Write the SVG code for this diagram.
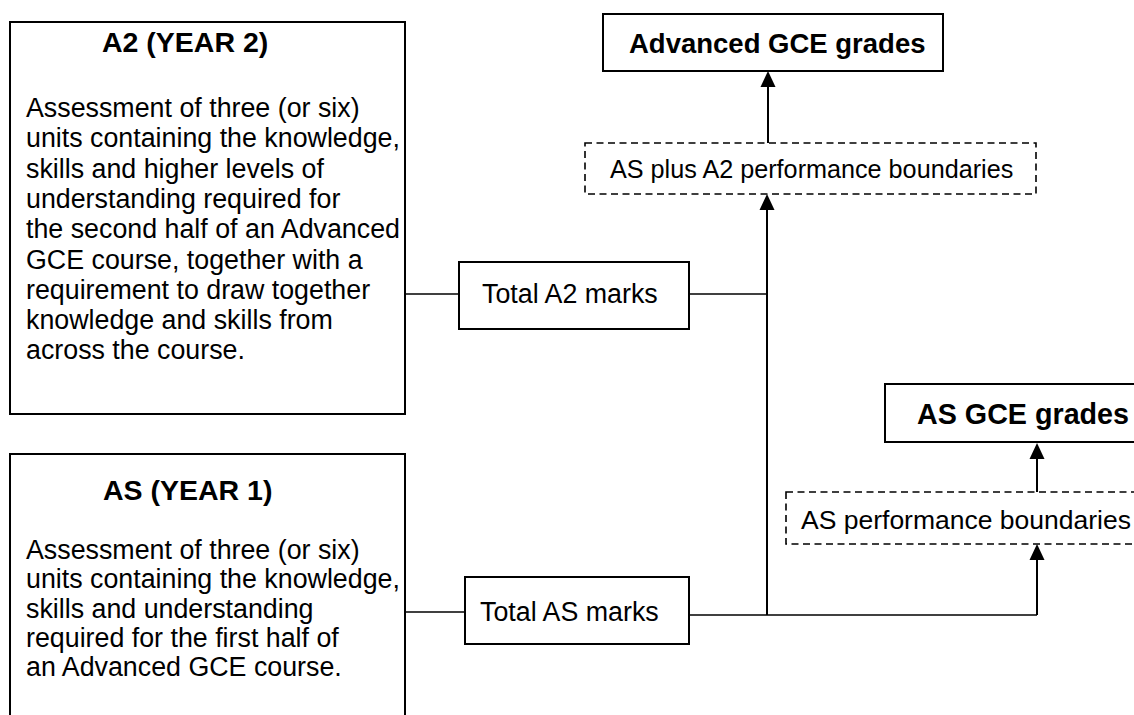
<svg xmlns="http://www.w3.org/2000/svg" width="1134" height="715" viewBox="0 0 1134 715">
<defs>
<style>
.box{fill:#fff;stroke:#000;stroke-width:2}
.dash{fill:#fff;stroke:#000;stroke-width:1.6;stroke-dasharray:7 4.5}
.t{font-family:"Liberation Sans",Arial,sans-serif;font-size:26.8px;fill:#000}
.b{font-family:"Liberation Sans",Arial,sans-serif;font-size:28.5px;font-weight:bold;fill:#000}
.ln{fill:none;stroke:#000;stroke-width:1.6}
.lv{fill:none;stroke:#000;stroke-width:2}
.ah{fill:#000}
</style>
</defs>
<rect width="1134" height="715" fill="#fff"/>
<g id="connectors">
<line class="ln" x1="405" y1="294" x2="459" y2="294"/>
<line class="ln" x1="689" y1="294" x2="767" y2="294"/>
<line class="ln" x1="405" y1="612" x2="465" y2="612"/>
<line class="ln" x1="689" y1="615" x2="1037" y2="615"/>
<line class="lv" x1="767" y1="615" x2="767" y2="210"/>
<path class="ah" d="M759.5,210 L767,194 L774.5,210 Z"/>
<line class="lv" x1="768" y1="143" x2="768" y2="87"/>
<path class="ah" d="M760.5,87 L768,71 L775.5,87 Z"/>
<line class="lv" x1="1037" y1="615" x2="1037" y2="560"/>
<path class="ah" d="M1029.5,560 L1037,544 L1044.5,560 Z"/>
<line class="lv" x1="1037" y1="492" x2="1037" y2="459"/>
<path class="ah" d="M1029.5,459 L1037,443 L1044.5,459 Z"/>
</g>
<g id="a2">
<rect class="box" x="10" y="22" width="395" height="392"/>
<text class="b" x="102" y="52">A2 (YEAR 2)</text>
<text class="t" x="26" y="117">Assessment of three (or six)</text>
<text class="t" x="26" y="147.3">units containing the knowledge,</text>
<text class="t" x="26" y="177.6">skills and higher levels of</text>
<text class="t" x="26" y="207.9">understanding required for</text>
<text class="t" x="26" y="238.2">the second half of an Advanced</text>
<text class="t" x="26" y="268.5">GCE course, together with a</text>
<text class="t" x="26" y="298.8">requirement to draw together</text>
<text class="t" x="26" y="329.1">knowledge and skills from</text>
<text class="t" x="26" y="359.4">across the course.</text>
</g>
<g id="as">
<rect class="box" x="10" y="454" width="395" height="280"/>
<text class="b" x="103" y="500">AS (YEAR 1)</text>
<text class="t" x="26" y="559">Assessment of three (or six)</text>
<text class="t" x="26" y="588.3">units containing the knowledge,</text>
<text class="t" x="26" y="617.6">skills and understanding</text>
<text class="t" x="26" y="646.9">required for the first half of</text>
<text class="t" x="26" y="676.2">an Advanced GCE course.</text>
</g>
<g id="totalA2">
<rect class="box" x="459" y="262" width="230" height="67"/>
<text class="t" x="482" y="303">Total A2 marks</text>
</g>
<g id="totalAS">
<rect class="box" x="465" y="577" width="224" height="67"/>
<text class="t" x="480" y="621">Total AS marks</text>
</g>
<g id="boundA2">
<rect class="dash" x="585" y="143" width="451" height="51"/>
<text class="t" x="610" y="178" style="font-size:25.2px">AS plus A2 performance boundaries</text>
</g>
<g id="advanced">
<rect class="box" x="603" y="14" width="340" height="57"/>
<text class="b" x="629" y="53" style="font-size:27.5px">Advanced GCE grades</text>
</g>
<g id="boundAS">
<rect class="dash" x="786" y="492" width="400" height="52"/>
<text class="t" x="801" y="529" style="font-size:26.5px">AS performance boundaries</text>
</g>
<g id="asgrades">
<rect class="box" x="885" y="384" width="300" height="58"/>
<text class="b" x="917" y="424" style="font-size:28.7px">AS GCE grades</text>
</g>
</svg>
